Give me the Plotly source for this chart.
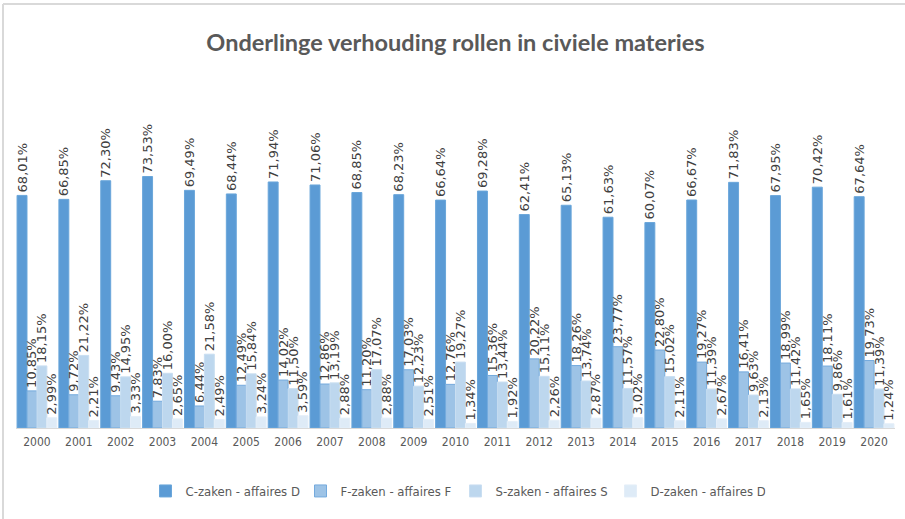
import plotly.graph_objects as go

years = [str(y) for y in range(2000, 2021)]
c_zaken = [68.01, 66.85, 72.30, 73.53, 69.49, 68.44, 71.94, 71.06, 68.85, 68.23, 66.64,
           69.28, 62.41, 65.13, 61.63, 60.07, 66.67, 71.83, 67.95, 70.42, 67.64]
f_zaken = [10.85, 9.72, 9.43, 7.83, 6.44, 12.49, 14.02, 12.86, 11.20, 17.03, 12.76,
           15.36, 20.22, 18.26, 23.77, 22.80, 19.27, 16.41, 18.99, 18.11, 19.73]
s_zaken = [18.15, 21.22, 14.95, 16.00, 21.58, 15.84, 11.50, 13.19, 17.07, 12.23, 19.27,
           13.44, 15.11, 13.74, 11.57, 15.02, 11.39, 9.63, 11.42, 9.86, 11.39]
d_zaken = [2.99, 2.21, 3.33, 2.65, 2.49, 3.24, 3.59, 2.88, 2.88, 2.51, 1.34,
           1.92, 2.26, 2.87, 3.02, 2.11, 2.67, 2.13, 1.65, 1.61, 1.24]
series_names = ["C-zaken - affaires D", "F-zaken - affaires F",
                "S-zaken - affaires S", "D-zaken - affaires D"]
title_text = "Onderlinge verhouding rollen in civiele materies"

colors = ["#5B9BD5", "#9DC3E6", "#BDD7EE", "#DEEBF7"]
line_colors = ["#6AA6DA", "#74AADD", "#C9DEF1", "#E4EEF8"]

COND = "DejaVu Sans Condensed, Liberation Sans Narrow, Lato, sans-serif"

W, H = 905, 519
ML, MR, MT, MB = 16, 10, 86, 91


def fmt(v):
    return f"{v:.2f}".replace(".", ",") + "%"


fig = go.Figure()
for name, vals, col, lc in zip(series_names, [c_zaken, f_zaken, s_zaken, d_zaken],
                               colors, line_colors):
    fig.add_trace(go.Bar(
        x=years, y=vals, name=name,
        marker=dict(color=col, line=dict(color=lc, width=1)),
        text=[fmt(v) for v in vals],
        textposition="outside", textangle=-90,
        constraintext="none", cliponaxis=False,
        textfont=dict(family="DejaVu Sans", size=13, color="#404040"),
    ))

pw = W - ML - MR
ph = H - MT - MB
# chart frame (top and left border of the original chart box)
x_left = (3 - ML) / pw
x_right = (W - ML) / pw
y_top = (H - MB - 4) / ph
y_bottom = (H - MB - H) / ph
fig.add_shape(type="line", xref="paper", yref="paper", x0=x_left, x1=x_right,
              y0=y_top, y1=y_top, line=dict(color="#D9D9D9", width=2))
fig.add_shape(type="line", xref="paper", yref="paper", x0=x_left, x1=x_left,
              y0=y_top, y1=y_bottom, line=dict(color="#D9D9D9", width=2))

fig.update_layout(
    width=W, height=H,
    margin=dict(l=ML, r=MR, t=MT, b=MB, autoexpand=False),
    paper_bgcolor="white", plot_bgcolor="white",
    barmode="group", bargap=0.05, bargroupgap=0,
    title=dict(text=title_text, x=0.5, xanchor="center", xref="paper",
               y=1 - 43 / H, yanchor="middle", yref="container",
               font=dict(family="Lato, sans-serif", size=23.5, color="#595959",
                         weight="bold")),
    xaxis=dict(showline=True, linecolor="#D9D9D9", linewidth=1,
               ticks="outside", ticklen=3, tickcolor="rgba(0,0,0,0)",
               tickfont=dict(family=COND, size=12, color="#595959"),
               showgrid=False, zeroline=False, fixedrange=True),
    yaxis=dict(range=[0, 100], visible=False, showgrid=False, zeroline=False),
    legend=dict(orientation="h", x=0.5, xanchor="center", y=-(491 - (H - MB)) / ph,
                yanchor="middle", entrywidth=110, entrywidthmode="pixels",
                itemwidth=30,
                font=dict(family=COND, size=13, color="#595959")),
    showlegend=True,
)

fig.write_html("out.html", config={"displayModeBar": False},
               post_script="document.body.style.margin='0';document.body.style.overflow='hidden';")
